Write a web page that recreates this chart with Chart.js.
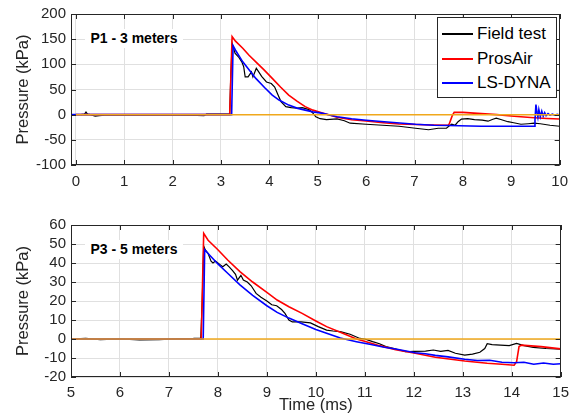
<!DOCTYPE html>
<html>
<head>
<meta charset="utf-8">
<script src="https://cdn.jsdelivr.net/npm/chart.js@4.4.0/dist/chart.umd.min.js"></script>
<style>
  body { margin: 0; background: #fff; }
  #wrap { position: relative; width: 576px; height: 416px; font-family: "Liberation Sans", Arial, sans-serif; }
  #wrap canvas { position: absolute; left: 0; }
  .tag { position: absolute; left: 85px; width: 98px; height: 19px; line-height: 19px; background: #fff;
         text-align: center; font-weight: bold; font-size: 14px; color: #000; }
  #legend { position: absolute; left: 437px; top: 17px; width: 118px; height: 75px; border: 1px solid #262626;
            background: #fff; padding-top: 4px; box-sizing: content-box; }
  #legend .row { height: 24.5px; display: flex; align-items: center; font-size: 17px; color: #000; }
  #legend .sw { display: inline-block; width: 31px; height: 2px; margin-left: 4px; margin-right: 4px; }
</style>
</head>
<body>
<div id="wrap">
  <canvas id="top" width="576" height="200" style="top:0"></canvas>
  <canvas id="bottom" width="576" height="216" style="top:200px"></canvas>
  <div class="tag" style="top:29px">P1 - 3 meters</div>
  <div class="tag" style="top:240px">P3 - 5 meters</div>
  <div id="legend"></div>
</div>
<script>
// P1 - 3 meters (time in ms, pressure in kPa)
const p1FieldT = [0.1, 0.18, 0.21, 0.24, 0.3, 0.4, 0.48, 0.6, 1.0, 1.5, 2.0, 2.5, 2.65, 2.7, 3.0, 3.18, 3.2, 3.23, 3.29, 3.36, 3.43, 3.47, 3.5, 3.56, 3.63, 3.66, 3.73, 3.78, 3.84, 3.94, 4.04, 4.11, 4.18, 4.24, 4.34, 4.45, 4.58, 4.68, 4.82, 4.9, 4.96, 5.05, 5.18, 5.4, 5.55, 5.67, 6.0, 6.34, 6.68, 7.02, 7.29, 7.49, 7.66, 7.72, 7.77, 7.84, 7.9, 7.97, 8.1, 8.24, 8.4, 8.52, 8.62, 8.69, 8.8, 8.93, 9.05, 9.2, 9.35, 9.47, 9.6, 9.8, 10];
const p1FieldP = [0, 1, 5, 1, 0, -3, -2, -1, -1, -1.2, -1, -1.5, -2, 1, 1, 1, 70, 142, 122, 115, 105, 95, 75, 75, 85, 75, 92, 85, 76, 65, 62, 55, 39, 26, 16, 14, 13, 14, 10, 3, -4, -8, -10, -8.5, -12, -17, -19, -21, -23, -27, -30, -27, -27, -22, -19, -21, -14, -8.7, -8, -10, -11, -13, -9, -7, -10, -14, -16, -19, -18, -17, -18, -21, -23];

const p1ProsT = [0, 3.18, 3.23, 3.3, 3.45, 3.58, 3.72, 3.89, 4.06, 4.23, 4.4, 4.57, 4.74, 4.9, 5.08, 5.4, 5.7, 6.0, 6.35, 6.68, 7.02, 7.36, 7.7, 7.72, 7.78, 7.82, 8.0, 8.38, 8.7, 9.06, 9.4, 9.74, 10];
const p1ProsP = [0, 0, 155, 146, 132, 118, 105, 89, 72, 55, 39, 27, 16, 9, 4, -5, -10, -12.7, -16, -18.5, -19.5, -20.5, -21, -18, -2, 4.5, 4.5, 2, 0, -3, -5.5, -7.5, -8.5];

const p1DynaT = [-0.1, 3.22, 3.25, 3.3, 3.45, 3.6, 3.72, 3.9, 4.06, 4.2, 4.4, 4.57, 4.74, 4.9, 5.08, 5.4, 5.7, 6.0, 6.5, 7.02, 7.4, 7.7, 8.38, 9.0, 9.47, 9.49, 9.51, 9.53, 9.55, 9.57, 9.6, 9.63, 9.66, 9.69, 9.72, 9.76, 9.8, 9.85, 9.9, 9.95, 10];
const p1DynaP = [0, 0, 137, 128, 105, 87, 72, 54, 39, 29, 19, 13, 9, 5.5, 3, -4, -8, -11, -15, -19, -21, -21.5, -23, -23, -23, -10, 20, 5, -5, 10, -4, 7, -3, 4, -2, 2, -1, 1, -1, 0.5, -0.5];

const p1ZeroT = [0, 10];
const p1ZeroP = [0, 0];

// P3 - 5 meters
const p3FieldT = [5.0, 5.3, 5.6, 6.0, 6.4, 6.8, 7.2, 7.5, 7.65, 7.68, 7.71, 7.74, 7.8, 7.86, 7.9, 7.95, 8.0, 8.05, 8.1, 8.17, 8.23, 8.3, 8.36, 8.4, 8.47, 8.52, 8.6, 8.68, 8.78, 8.88, 9.0, 9.1, 9.2, 9.3, 9.37, 9.45, 9.52, 9.7, 9.89, 10.05, 10.22, 10.35, 10.5, 10.7, 10.9, 11.0, 11.16, 11.3, 11.43, 11.6, 11.83, 12.0, 12.24, 12.4, 12.55, 12.7, 12.85, 13.04, 13.2, 13.35, 13.45, 13.5, 13.6, 13.77, 13.95, 14.1, 14.25, 14.44, 14.7, 15.0];
const p3FieldP = [0, 0.3, -0.3, 0, -0.5, -0.4, 0.2, 0.3, 0.5, 20, 49, 47, 45, 41, 40, 41, 40, 39, 38, 39.5, 38, 36, 34, 31, 33.5, 31, 30, 28, 24, 22, 20, 18, 17.5, 15.5, 13.5, 10, 9, 9, 8.5, 6.5, 4.7, 4.2, 3.9, 2.5, 0.3, 0, -1.4, -2.5, -4, -5, -6.7, -6.5, -6.4, -5.8, -6.5, -6, -7.5, -8.5, -8, -7, -5, -2.5, -3, -3.2, -3.5, -2.3, -3.5, -4.4, -5, -5.4];

const p3ProsT = [5, 7.66, 7.71, 7.8, 8.0, 8.2, 8.45, 8.71, 9.0, 9.21, 9.45, 9.72, 10.0, 10.22, 10.5, 10.83, 11.03, 11.3, 11.63, 12.03, 12.44, 12.8, 13.04, 13.5, 13.8, 14.05, 14.1, 14.15, 14.2, 14.6, 15];
const p3ProsP = [0, 0, 55.6, 52, 47, 41.6, 35.5, 30, 24.5, 20.5, 17, 13.5, 9.5, 6.5, 3.5, 0, -1.4, -3.5, -5.6, -7.5, -9.6, -10.8, -11.6, -12.8, -13.3, -13.8, -12, -4, -3.2, -4, -5.2];

const p3DynaT = [5, 7.7, 7.73, 7.8, 8.0, 8.2, 8.45, 8.71, 9.0, 9.21, 9.45, 9.72, 10.0, 10.22, 10.5, 10.83, 11.1, 11.4, 11.63, 12.03, 12.24, 12.44, 12.7, 13.04, 13.3, 13.55, 13.8, 14.05, 14.25, 14.45, 14.65, 14.85, 15];
const p3DynaP = [0, 0, 47, 45, 39.5, 34.6, 28.5, 23, 17.5, 14, 11, 8, 5, 3, 0.5, -1.4, -2.8, -4.3, -5.3, -7.2, -7.8, -8.6, -9.4, -10.7, -11.3, -11.2, -12.2, -12.5, -12.2, -13.3, -12.6, -13.3, -13];

const p3ZeroT = [5, 15];
const p3ZeroP = [0, 0];

const seriesNames = ["Field test", "ProsAir", "LS-DYNA"];
const seriesColors = ["#000000", "#ff0000", "#0000ff"];
const zeroColor = "#f0a81c";

const p1XTicks = { min: -0.1, max: 10, step: 1 };
const p1YTicks = { min: -100, max: 200, step: 50 };
const p3XTicks = { min: 5, max: 15, step: 1 };
const p3YTicks = { min: -20, max: 60, step: 10 };

const FONT = "'Liberation Sans', Arial, Helvetica, sans-serif";
const AXIS = "#262626";

const zip = (t, p) => t.map((v, i) => ({ x: v, y: p[i] }));

// frame round the plot area, with MATLAB style inward ticks on all four sides
const boxPlugin = {
  id: "box",
  afterDatasetsDraw(chart) {
    const { ctx, chartArea: a, scales } = chart;
    ctx.save();
    ctx.strokeStyle = AXIS;
    ctx.lineWidth = 1;
    ctx.beginPath();
    scales.x.ticks.forEach((t) => {
      const px = Math.round(scales.x.getPixelForValue(t.value)) + 0.5;
      ctx.moveTo(px, a.bottom); ctx.lineTo(px, a.bottom - 5);
      ctx.moveTo(px, a.top); ctx.lineTo(px, a.top + 5);
    });
    scales.y.ticks.forEach((t) => {
      const py = Math.round(scales.y.getPixelForValue(t.value)) + 0.5;
      ctx.moveTo(a.left, py); ctx.lineTo(a.left + 5, py);
      ctx.moveTo(a.right, py); ctx.lineTo(a.right - 5, py);
    });
    ctx.stroke();
    ctx.strokeRect(Math.round(a.left) + 0.5, Math.round(a.top) + 0.5, Math.round(a.width) - 1, Math.round(a.height) - 1);
    ctx.restore();
  },
};

function makeChart(id, series, zero, xr, yr, opt) {
  const datasets = series.map((s, i) => ({
    label: seriesNames[i],
    data: zip(s[0], s[1]),
    borderColor: seriesColors[i],
    borderWidth: i === 0 ? 1.2 : 1.6,
    order: 4 - i,
  }));
  datasets.push({
    label: "",
    data: zip(zero[0], zero[1]),
    borderColor: zeroColor,
    borderWidth: 1.5,
    order: 0,
  });

  return new Chart(document.getElementById(id), {
    type: "line",
    data: { datasets },
    plugins: [boxPlugin],
    options: {
      responsive: false,
      animation: false,
      devicePixelRatio: 1,
      elements: { point: { radius: 0 }, line: { tension: 0 } },
      layout: { padding: { top: opt.top, right: 9, left: 0, bottom: 0 } },
      plugins: { legend: { display: false }, tooltip: { enabled: false } },
      scales: {
        x: {
          type: "linear",
          min: xr.min,
          max: xr.max,
          afterFit: (s) => { s.height = opt.xh; },
          grid: { color: "#e0e0e0", drawTicks: false },
          border: { display: false },
          ticks: {
            stepSize: xr.step,
            includeBounds: false,
            autoSkip: false,
            padding: opt.xpad,
            color: AXIS,
            font: { family: FONT, size: 15 },
            maxRotation: 0,
          },
          title: {
            display: !!opt.xtitle,
            text: opt.xtitle || "",
            color: AXIS,
            font: { family: FONT, size: 16.5 },
            padding: { top: 0, bottom: 1 },
          },
        },
        y: {
          min: yr.min,
          max: yr.max,
          afterFit: (s) => { s.width = 71; },
          grid: { color: "#e0e0e0", drawTicks: false },
          border: { display: false },
          ticks: {
            stepSize: yr.step,
            autoSkip: false,
            padding: 5,
            color: AXIS,
            font: { family: FONT, size: 15 },
          },
          title: {
            display: true,
            text: "Pressure (kPa)",
            color: AXIS,
            font: { family: FONT, size: 16.5 },
            padding: { top: 14, bottom: 0 },
          },
        },
      },
    },
  });
}

const topChart = makeChart(
  "top",
  [[p1FieldT, p1FieldP], [p1ProsT, p1ProsP], [p1DynaT, p1DynaP]],
  [p1ZeroT, p1ZeroP],
  p1XTicks, p1YTicks,
  { top: 14, xh: 35, xpad: 8 }
);

makeChart(
  "bottom",
  [[p3FieldT, p3FieldP], [p3ProsT, p3ProsP], [p3DynaT, p3DynaP]],
  [p3ZeroT, p3ZeroP],
  p3XTicks, p3YTicks,
  { top: 25, xh: 39, xpad: 7, xtitle: "Time (ms)" }
);

// legend box from the top chart's named datasets
const legend = document.getElementById("legend");
topChart.data.datasets.filter((d) => d.label).forEach((d) => {
  const row = document.createElement("div");
  row.className = "row";
  const sw = document.createElement("span");
  sw.className = "sw";
  sw.style.background = d.borderColor;
  row.appendChild(sw);
  row.appendChild(document.createTextNode(d.label));
  legend.appendChild(row);
});
</script>
</body>
</html>
